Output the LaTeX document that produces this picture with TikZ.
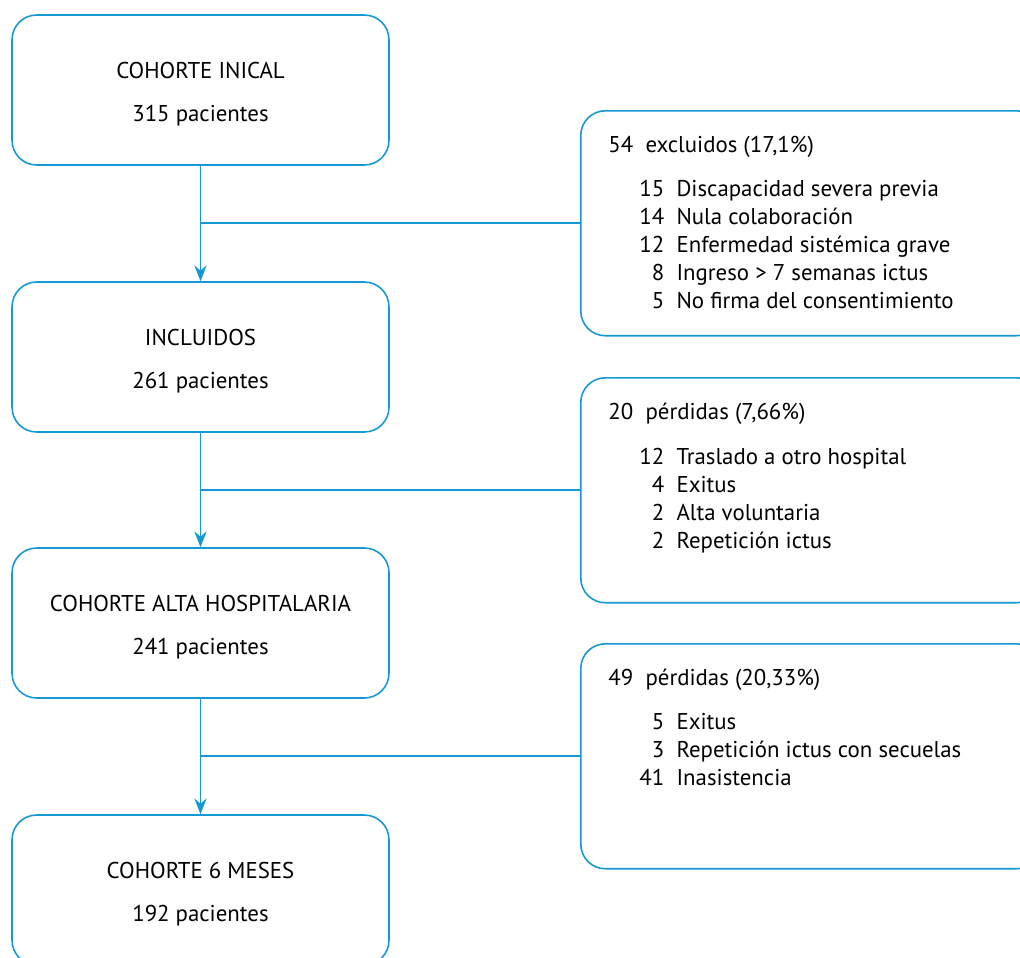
\documentclass[tikz,border=0pt]{standalone}
\usepackage{fontspec}
\setmainfont{PT Sans}
\usetikzlibrary{positioning,arrows.meta}
\definecolor{flowblue}{RGB}{22,152,212}
\begin{document}
\begin{tikzpicture}[x=0.02cm,y=-0.02cm,
		cohort/.style={draw=flowblue, line width=0.9pt, rounded corners=14pt, minimum width=7.54cm, minimum height=3cm, align=center, font=\fontsize{13}{24}\selectfont},
		lossbox/.style={draw=flowblue, line width=0.9pt, rounded corners=14pt, minimum width=9.2cm, minimum height=4.5cm, anchor=north west},
		losshead/.style={anchor=base west, inner sep=0pt, font=\fontsize{13}{16}\selectfont},
		losslist/.style={anchor=base west, inner sep=0pt, font=\fontsize{13}{16}\selectfont},
		flow/.style={draw=flowblue, line width=0.9pt},
		flowarrow/.style={flow, -{Stealth[length=9pt, width=7pt, inset=3pt]}}
	]
		\useasboundingbox (0,0) rectangle (1020,957);
		
		% cohortes
		\node[cohort] (ini) at (200.5,90) {\rule{0pt}{14pt}COHORTE INICAL\\315 pacientes};
		\node[cohort] (inc) at (200.5,357) {\rule{0pt}{14pt}INCLUIDOS\\261 pacientes};
		\node[cohort] (alta) at (200.5,623) {\rule{0pt}{14pt}COHORTE ALTA HOSPITALARIA\\241 pacientes};
		\node[cohort] (seis) at (200.5,890) {\rule{0pt}{14pt}COHORTE 6 MESES\\192 pacientes};
		
		% excluidos y perdidas
		\node[lossbox] (exc) at (580,110) {};
		\node[losshead] (exch) at (608,152) {54\hspace{7pt}excluidos (17,1\%)};
		\node[losslist] (excl) at (639,196) {\begin{tabular}[t]{@{}r@{\hspace{7pt}}l@{}}
				15 & Discapacidad severa previa\\
				14 & Nula colaboración\\
				12 & Enfermedad sistémica grave\\
				8 & Ingreso > 7 semanas ictus\\
				5 & No firma del consentimiento
			\end{tabular}};
		
		\node[lossbox] (perd) at (580,377) {};
		\node[losshead] (perdh) at (608,419) {20\hspace{7pt}pérdidas (7,66\%)};
		\node[losslist] (perdl) at (639,464) {\begin{tabular}[t]{@{}r@{\hspace{7pt}}l@{}}
				12 & Traslado a otro hospital\\
				4 & Exitus\\
				2 & Alta voluntaria\\
				2 & Repetición ictus
			\end{tabular}};
		
		\node[lossbox] (perdb) at (580,643) {};
		\node[losshead] (perdbh) at (608,685) {49\hspace{7pt}pérdidas (20,33\%)};
		\node[losslist] (perdbl) at (639,729) {\begin{tabular}[t]{@{}r@{\hspace{7pt}}l@{}}
				5 & Exitus\\
				3 & Repetición ictus con secuelas\\
				41 & Inasistencia
			\end{tabular}};
		
		% conectores
		\draw[flowarrow] (ini.south) -- (inc.north);
		\draw[flowarrow] (inc.south) -- (alta.north);
		\draw[flowarrow] (alta.south) -- (seis.north);
		\draw[flow] (exc.west) -- (exc.west -| ini.south);
		\draw[flow] (perd.west) -- (perd.west -| inc.south);
		\draw[flow] (perdb.west) -- (perdb.west -| alta.south);
	\end{tikzpicture}
\end{document}
